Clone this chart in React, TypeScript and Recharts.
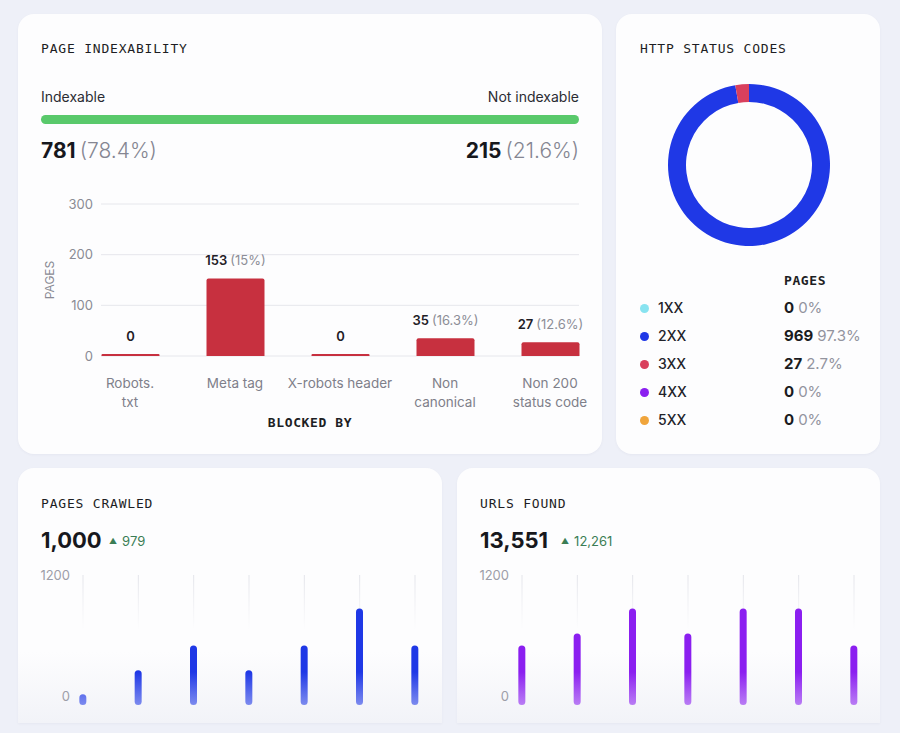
import { BarChart, Bar, XAxis, YAxis, CartesianGrid, LabelList, PieChart, Pie, Cell } from 'recharts';

const indexableCount = 781;
const indexableShare = '78.4%';
const notIndexableCount = 215;
const notIndexableShare = '21.6%';

const blockedCategories = ['Robots.\ntxt', 'Meta tag', 'X-robots header', 'Non\ncanonical', 'Non 200\nstatus code'];
const blockedPages = [0, 153, 0, 35, 27];
const blockedShares = ['', '15%', '', '16.3%', '12.6%'];
const pagesTicks = [0, 100, 200, 300];

const statusCodes = ['1XX', '2XX', '3XX', '4XX', '5XX'];
const statusPages = [0, 969, 27, 0, 0];
const statusShares = ['0%', '97.3%', '2.7%', '0%', '0%'];
const statusColors = ['#88e3f0', '#1f38e6', '#d9405d', '#8b1ff0', '#f0a53c'];

const crawlPeriods = ['1', '2', '3', '4', '5', '6', '7'];
const pagesCrawled = [100, 320, 550, 320, 550, 890, 550];
const urlsFound = [550, 660, 890, 660, 890, 890, 550];
const miniTicks = [0, 1200];

const blockedData = blockedCategories.map((name, i) => ({ name, pages: blockedPages[i] }));
const statusData = statusCodes.map((code, i) => ({ code, pages: statusPages[i] }));
const crawledData = crawlPeriods.map((p, i) => ({ period: p, value: pagesCrawled[i] }));
const urlsData = crawlPeriods.map((p, i) => ({ period: p, value: urlsFound[i] }));

const SANS = 'Inter, "Noto Sans", sans-serif';
const MONO = '"DejaVu Sans Mono", monospace';

const Txt = ({ x, cy, size, children, style }: any) => (
  <div
    style={{
      position: 'absolute',
      left: x,
      top: cy - size * 0.6,
      fontSize: size,
      lineHeight: `${size * 1.2}px`,
      whiteSpace: 'nowrap',
      fontFamily: SANS,
      ...style,
    }}
  >
    {children}
  </div>
);

const Title = ({ x, cy, children }: any) => (
  <Txt x={x} cy={cy} size={13} style={{ fontFamily: MONO, letterSpacing: 0.8, color: '#1d1e24' }}>
    {children}
  </Txt>
);

const BlockedTick = ({ x, y, payload }: any) => {
  const lines = String(payload.value).split('\n');
  return (
    <text x={x} y={y} textAnchor="middle" fill="#7f808a" fontSize={13.5} fontFamily={SANS}>
      {lines.map((l, i) => (
        <tspan key={i} x={x} dy={i === 0 ? 24 : 19}>
          {l}
        </tspan>
      ))}
    </text>
  );
};

const BarValueLabel = ({ x, y, width, index }: any) => (
  <text x={x + width / 2} y={y - 13} textAnchor="middle" fontSize={13} fontFamily={SANS}>
    <tspan fontWeight={600} fill="#1f2026">{blockedPages[index]}</tspan>
    {blockedShares[index] ? (
      <tspan fill="#8c8d96" dx={3}>({blockedShares[index]})</tspan>
    ) : null}
  </text>
);

const BlockedByLabel = ({ viewBox }: any) => (
  <text
    x={viewBox.x + viewBox.width / 2 - 30}
    y={viewBox.y + viewBox.height - 13}
    textAnchor="middle"
    fontSize={13}
    fontWeight={700}
    letterSpacing={0.6}
    fill="#1d1e24"
    fontFamily={MONO}
  >
    BLOCKED BY
  </text>
);

const MiniTick = ({ x, y, payload }: any) => (
  <text
    x={x}
    y={payload.value === 0 ? y - 9 : y}
    dy="0.36em"
    textAnchor="end"
    fill="#9d9ea8"
    fontSize={13}
    fontFamily={SANS}
  >
    {payload.value}
  </text>
);

// only a line behind each bar, none on the plot edges
const barGridLines = ({ xAxis, offset }: any) => {
  if (xAxis && typeof xAxis.scale === 'function') {
    return crawlPeriods.map((p) => xAxis.scale(p));
  }
  const step = (offset.width - 10) / (crawlPeriods.length - 1);
  return crawlPeriods.map((_, i) => offset.left + 5 + i * step);
};

const MiniBars = ({ data, color, id }: any) => (
  <BarChart width={402} height={160} data={data} margin={{ top: 15, right: 0, bottom: 15, left: 0 }}>
    <defs>
      <linearGradient id={`bar-${id}`} x1="0" y1="112" x2="0" y2="146" gradientUnits="userSpaceOnUse">
        <stop offset="0" stopColor={color} stopOpacity={1} />
        <stop offset="1" stopColor={color} stopOpacity={0.55} />
      </linearGradient>
      <linearGradient id={`grid-${id}`} x1="0" y1="15" x2="0" y2="70" gradientUnits="userSpaceOnUse">
        <stop offset="0" stopColor="#e3e4ea" stopOpacity={1} />
        <stop offset="1" stopColor="#e3e4ea" stopOpacity={0} />
      </linearGradient>
    </defs>
    <CartesianGrid horizontal={false} stroke={`url(#grid-${id})`} verticalCoordinatesGenerator={barGridLines} />
    <XAxis dataKey="period" hide scale="point" padding={{ left: 5, right: 5 }} />
    <YAxis
      width={60}
      domain={[0, 1200]}
      ticks={miniTicks}
      axisLine={false}
      tickLine={false}
      tick={<MiniTick />}
    />
    <Bar dataKey="value" fill={`url(#bar-${id})`} barSize={7} radius={3.5} isAnimationActive={false} />
  </BarChart>
);

const card: any = {
  position: 'absolute',
  background: '#fdfdfe',
  borderRadius: 16,
  boxShadow: '0 1px 3px rgba(30,30,80,0.04)',
};

const lowerCard: any = {
  ...card,
  height: 255,
  borderRadius: '16px 16px 0 0',
  background: 'linear-gradient(to bottom, #fdfdfe 0%, #fdfdfe 72%, #f2f3f8 100%)',
};

export default function App() {
  return (
    <div
      style={{
        position: 'relative',
        width: 900,
        height: 733,
        background: '#eef0f8',
        overflow: 'hidden',
        fontFamily: SANS,
      }}
    >
      <style>{'body{margin:0}'}</style>

      {/* page indexability */}
      <div style={{ ...card, left: 18, top: 14, width: 584, height: 440 }} />
      <Title x={41} cy={49}>PAGE INDEXABILITY</Title>
      <Txt x={41} cy={97} size={14} style={{ color: '#2b2c33' }}>Indexable</Txt>
      <Txt x={479} cy={97} size={14} style={{ color: '#2b2c33', width: 100, textAlign: 'right' }}>
        Not indexable
      </Txt>
      <div
        style={{ position: 'absolute', left: 41, top: 115, width: 538, height: 9, borderRadius: 5, background: '#59c96b' }}
      />
      <Txt x={41} cy={151} size={21}>
        <span style={{ fontWeight: 700, color: '#17181d' }}>{indexableCount}</span>
        <span style={{ fontWeight: 300, color: '#858692', marginLeft: 4 }}>({indexableShare})</span>
      </Txt>
      <Txt x={379} cy={151} size={21} style={{ width: 200, textAlign: 'right' }}>
        <span style={{ fontWeight: 700, color: '#17181d' }}>{notIndexableCount}</span>
        <span style={{ fontWeight: 300, color: '#858692', marginLeft: 4 }}>({notIndexableShare})</span>
      </Txt>
      <div style={{ position: 'absolute', left: 30, top: 190 }}>
        <BarChart width={560} height={250} data={blockedData} margin={{ top: 14, right: 11, bottom: 0, left: 0 }}>
          <CartesianGrid vertical={false} stroke="#e6e7ec" />
          <XAxis
            dataKey="name"
            scale="point"
            padding={{ left: 29, right: 29 }}
            axisLine={false}
            tickLine={false}
            interval={0}
            height={84}
            tick={<BlockedTick />}
            label={<BlockedByLabel />}
          />
          <YAxis
            width={71}
            domain={[0, 300]}
            ticks={pagesTicks}
            axisLine={false}
            tickLine={false}
            tick={{ fill: '#8a8b94', fontSize: 13, fontFamily: SANS }}
            label={{
              value: 'PAGES',
              angle: -90,
              position: 'insideLeft',
              offset: 20,
              fill: '#8a8b94',
              fontSize: 12,
              fontFamily: SANS,
              style: { textAnchor: 'middle' },
            }}
          />
          <Bar dataKey="pages" fill="#c7303f" barSize={58} minPointSize={2} radius={[2, 2, 0, 0]} isAnimationActive={false}>
            <LabelList dataKey="pages" content={<BarValueLabel />} />
          </Bar>
        </BarChart>
      </div>

      {/* http status codes */}
      <div style={{ ...card, left: 616, top: 14, width: 264, height: 440 }} />
      <Title x={640} cy={49}>HTTP STATUS CODES</Title>
      <div style={{ position: 'absolute', left: 664, top: 80 }}>
        <PieChart width={170} height={170}>
          <Pie
            data={statusData}
            dataKey="pages"
            nameKey="code"
            innerRadius={63}
            outerRadius={81}
            startAngle={90}
            endAngle={-270}
            stroke="none"
            isAnimationActive={false}
          >
            {statusData.map((d, i) => (
              <Cell key={d.code} fill={statusColors[i]} />
            ))}
          </Pie>
        </PieChart>
      </div>
      <Txt x={784} cy={281} size={13} style={{ fontFamily: MONO, fontWeight: 700, letterSpacing: 0.6, color: '#1d1e24' }}>
        PAGES
      </Txt>
      {statusCodes.map((code, i) => {
        const cy = 308 + i * 28;
        return (
          <div key={code}>
            <div
              style={{
                position: 'absolute',
                left: 639.5,
                top: cy - 4.5,
                width: 9,
                height: 9,
                borderRadius: '50%',
                background: statusColors[i],
              }}
            />
            <Txt x={658} cy={cy} size={14} style={{ fontWeight: 500, color: '#22232a' }}>{code}</Txt>
            <Txt x={784} cy={cy} size={15}>
              <span style={{ fontWeight: 700, color: '#1a1b20' }}>{statusPages[i]}</span>
              <span style={{ fontWeight: 400, color: '#93949e', marginLeft: 4 }}>{statusShares[i]}</span>
            </Txt>
          </div>
        );
      })}

      {/* pages crawled */}
      <div style={{ ...lowerCard, left: 18, top: 468, width: 424 }} />
      <Title x={41} cy={504}>PAGES CRAWLED</Title>
      <Txt x={41} cy={540} size={22} style={{ fontWeight: 700, color: '#17181d' }}>1,000</Txt>
      <Txt x={109} cy={542} size={13} style={{ color: '#3b7d55' }}>
        <span style={{ fontSize: 8, marginRight: 5, verticalAlign: 2 }}>▲</span>979
      </Txt>
      <div style={{ position: 'absolute', left: 18, top: 560 }}>
        <MiniBars data={crawledData} color="#1f38e6" id="crawled" />
      </div>

      {/* urls found */}
      <div style={{ ...lowerCard, left: 457, top: 468, width: 423 }} />
      <Title x={480} cy={504}>URLS FOUND</Title>
      <Txt x={480} cy={540} size={22} style={{ fontWeight: 700, color: '#17181d' }}>13,551</Txt>
      <Txt x={561} cy={542} size={13} style={{ color: '#3b7d55' }}>
        <span style={{ fontSize: 8, marginRight: 5, verticalAlign: 2 }}>▲</span>12,261
      </Txt>
      <div style={{ position: 'absolute', left: 457, top: 560 }}>
        <MiniBars data={urlsData} color="#8b1ff0" id="urls" />
      </div>
    </div>
  );
}
